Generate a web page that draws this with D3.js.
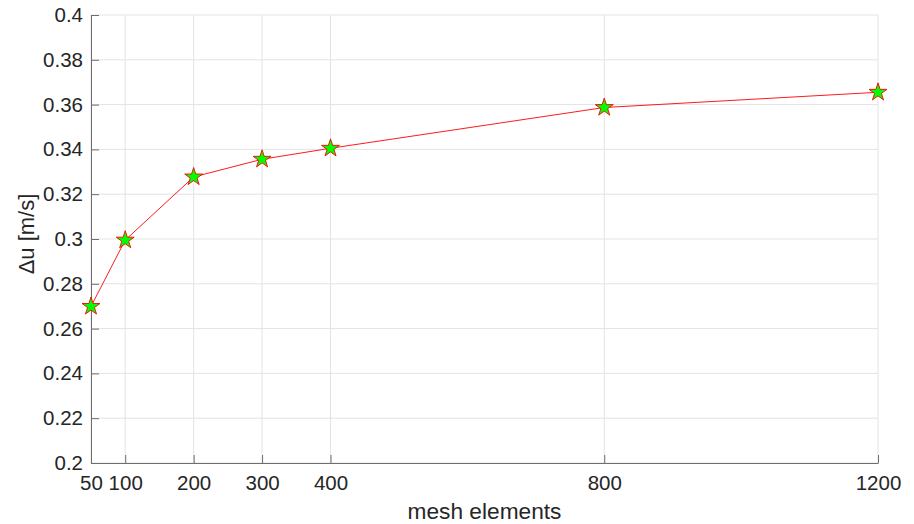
<!DOCTYPE html>
<html>
<head>
<meta charset="utf-8">
<script src="https://cdn.jsdelivr.net/npm/d3@7"></script>
<style>
  body { margin: 0; background: #fff; }
  text { font-family: "Liberation Sans", Arial, sans-serif; fill: #262626; }
</style>
</head>
<body>
<svg id="chart"></svg>
<script>
const meshElements = [50, 100, 200, 300, 400, 800, 1200];
const deltaU = [0.2699, 0.2995, 0.3277, 0.3356, 0.3405, 0.3587, 0.3655];
const xTicks = [50, 100, 200, 300, 400, 800, 1200];
const yTicks = [0.2, 0.22, 0.24, 0.26, 0.28, 0.3, 0.32, 0.34, 0.36, 0.38, 0.4];

(function() {
  const dim = { w: 914, h: 524, left: 91, right: 878, top: 15, bottom: 463 };
  const $svg = d3.select('#chart').attr('width', dim.w).attr('height', dim.h);

  const xScale = d3.scaleLinear().domain([50, 1200]).range([dim.left, dim.right]),
    yScale = d3.scaleLinear().domain([0.2, 0.4]).range([dim.bottom, dim.top]);

  // grid
  const $grid = $svg.append('g');
  $grid.selectAll('line.gx').data(xTicks).enter().append('line')
    .attr('x1', d => xScale(d)).attr('x2', d => xScale(d))
    .attr('y1', dim.top).attr('y2', dim.bottom)
    .attr('stroke', '#e3e3e3').attr('stroke-width', 1);
  $grid.selectAll('line.gy').data(yTicks).enter().append('line')
    .attr('x1', dim.left).attr('x2', dim.right)
    .attr('y1', d => yScale(d)).attr('y2', d => yScale(d))
    .attr('stroke', '#e3e3e3').attr('stroke-width', 1);

  // axes, ticks inward
  const fmt = d => d3.format('~g')(d);
  const $yAxis = $svg.append('g').attr('transform', 'translate(' + dim.left + ',0)')
    .call(d3.axisLeft(yScale).tickValues(yTicks).tickFormat(fmt).tickSizeInner(-8).tickSizeOuter(0).tickPadding(8));
  const $xAxis = $svg.append('g').attr('transform', 'translate(0,' + dim.bottom + ')')
    .call(d3.axisBottom(xScale).tickValues(xTicks).tickFormat(fmt).tickSizeInner(-8).tickSizeOuter(0).tickPadding(12));
  [$yAxis, $xAxis].forEach($a => {
    $a.selectAll('path, line').attr('stroke', '#6e6e6e').attr('stroke-width', 1);
    $a.selectAll('text').attr('font-size', 20.5).attr('fill', '#262626')
      .attr('font-family', '"Liberation Sans", Arial, sans-serif');
  });

  // line
  const line = d3.line().x((d, i) => xScale(meshElements[i])).y(d => yScale(d));
  $svg.append('path').datum(deltaU)
    .attr('d', line)
    .attr('fill', 'none')
    .attr('stroke', '#ff0000')
    .attr('stroke-width', 0.9);

  // star markers
  const star = d3.symbol().type(d3.symbolStar).size(100);
  $svg.append('g').selectAll('path').data(deltaU).enter().append('path')
    .attr('d', star)
    .attr('transform', (d, i) => 'translate(' + xScale(meshElements[i]) + ',' + yScale(d) + ')')
    .attr('fill', '#00ff00')
    .attr('stroke', '#ff0000')
    .attr('stroke-width', 0.9);

  // labels
  $svg.append('text')
    .text('Δu [m/s]')
    .attr('text-anchor', 'middle')
    .attr('font-size', 22)
    .attr('transform', 'translate(34,' + ((dim.top + dim.bottom) / 2 - 5) + ') rotate(-90)');
  $svg.append('text')
    .text('mesh elements')
    .attr('text-anchor', 'middle')
    .attr('font-size', 22.7)
    .attr('x', (dim.left + dim.right) / 2)
    .attr('y', 519);
})();
</script>
</body>
</html>
